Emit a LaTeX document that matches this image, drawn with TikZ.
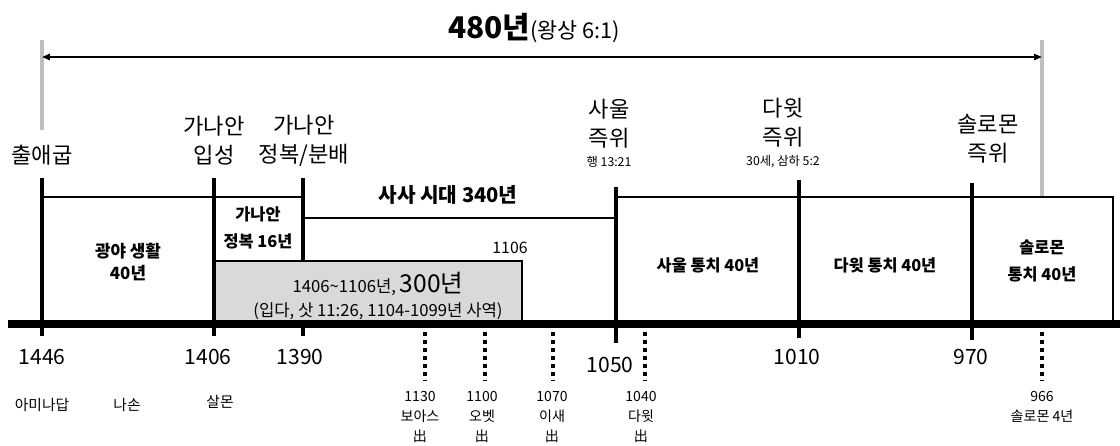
\documentclass[tikz,border=0pt]{standalone}
\usepackage{fontspec}
\setmainfont{Noto Sans CJK KR}
\usetikzlibrary{arrows.meta, positioning}

\begin{document}
\begin{tikzpicture}[x=0.02cm, y=-0.02cm,
    yearlbl/.style={font=\fontsize{12}{14}\selectfont, inner sep=0pt},
    eventlbl/.style={font=\fontsize{12.6}{16.5}\selectfont, align=center, inner sep=0pt},
    boxtxt/.style={font=\fontsize{9.3}{15}\selectfont\bfseries, align=center, inner sep=0pt},
    namelbl/.style={font=\fontsize{8.4}{10}\selectfont, inner sep=0pt},
    smalllbl/.style={font=\fontsize{8}{11.3}\selectfont, align=center, inner sep=0pt},
    reflbl/.style={font=\fontsize{7}{9}\selectfont, inner sep=0pt},
    tickline/.style={line width=2.3pt},
    frameline/.style={line width=0.85pt},
    dotline/.style={line width=2.2pt, dash pattern=on 2.2pt off 2.4pt},
    grayline/.style={line width=2.3pt, black!25}]
    \useasboundingbox (0,0) rectangle (1120,446);

    % Title and span arrow
    \node[inner sep=0pt] (title) at (534,28) {\fontsize{17}{20}\selectfont\bfseries 480년\fontsize{12.4}{14}\selectfont\mdseries(왕상 6:1)};
    \coordinate (spanL) at (42,40);
    \coordinate (spanLb) at (42,130);
    \coordinate (spanR) at (1042,40);
    \coordinate (spanRb) at (1042,196);
    \draw[grayline] (spanL) -- (spanLb);
    \draw[grayline] (spanR) -- (spanRb);
    \coordinate (arrL) at (42,57);
    \coordinate (arrR) at (1042,57);
    \draw[line width=1.1pt, {Triangle[length=4.5pt,width=3.5pt]}-{Triangle[length=4.5pt,width=3.5pt]}] (arrL) -- (arrR);

    % Period frames
    \filldraw[frameline, fill=black!15] (214,261) rectangle (522,323);
    \draw[frameline] (42,197) -- (303,197);
    \draw[frameline] (214,261) -- (303,261);
    \draw[frameline] (303,218) -- (616,218);
    \draw[frameline] (616,197) -- (1113,197) -- (1113,323);

    % Main axis
    \coordinate (axisL) at (8,324);
    \coordinate (axisR) at (1120,324);
    \draw[line width=4.5pt] (axisL) -- (axisR);

    % Ticks
    \coordinate (t1446) at (42,178);    \coordinate (b1446) at (42,336);
    \coordinate (t1406) at (214,178);   \coordinate (b1406) at (214,336);
    \coordinate (t1390) at (303,178);   \coordinate (m1390) at (303,261);
    \coordinate (a1390) at (303,324);   \coordinate (b1390) at (303,336);
    \coordinate (t1050) at (616,187);   \coordinate (b1050) at (616,343);
    \coordinate (t1010) at (799,180);   \coordinate (b1010) at (799,338);
    \coordinate (t970) at (972,183);    \coordinate (b970) at (972,340);
    \draw[tickline] (t1446) -- (b1446);
    \draw[tickline] (t1406) -- (b1406);
    \draw[tickline] (t1390) -- (m1390);
    \draw[tickline] (a1390) -- (b1390);
    \draw[tickline] (t1050) -- (b1050);
    \draw[tickline] (t1010) -- (b1010);
    \draw[tickline] (t970) -- (b970);

    % Events above
    \node[eventlbl] (exodus) at (42,155) {출애굽};
    \node[eventlbl] (entry) at (214,141) {가나안\\입성};
    \node[eventlbl] (conquest) at (304,141) {가나안\\정복/분배};
    \node[eventlbl] (saul) at (609,124) {사울\\즉위};
    \node[reflbl, below=4pt of saul] (saulref) {행 13:21};
    \node[eventlbl] (david) at (783,123) {다윗\\즉위};
    \node[reflbl, below=4pt of david] (davidref) {30세, 삼하 5:2};
    \node[eventlbl] (solomon) at (988,139) {솔로몬\\즉위};

    % Period texts
    \node[boxtxt, font=\fontsize{9.6}{13}\selectfont\bfseries] (wild) at (128,262) {광야 생활\\40년};
    \node[boxtxt] (conq16) at (258,228) {가나안\\정복 16년};
    \node[boxtxt, font=\fontsize{11.5}{14}\selectfont\bfseries] (judges) at (448,195) {사사 시대 340년};
    \node[yearlbl, font=\fontsize{9}{11}\selectfont] (y1106) at (510,248) {1106};
    \node[inner sep=0pt, align=center, font=\fontsize{9.5}{14}\selectfont] (judges300) at (378,296)
        {1406\textasciitilde1106년, {\fontsize{14}{14}\selectfont 300년}\\(입다, 삿 11:26, 1104-1099년 사역)};
    \node[boxtxt] (saulrule) at (708,265) {사울 통치 40년};
    \node[boxtxt] (davidrule) at (885,265) {다윗 통치 40년};
    \node[boxtxt] (solrule) at (1042,261) {솔로몬\\통치 40년};

    % Years below
    \node[yearlbl] (l1446) at (42,357) {1446};
    \node[yearlbl] (l1406) at (208,357) {1406};
    \node[yearlbl] (l1390) at (300,357) {1390};
    \node[yearlbl] (l1050) at (610,365) {1050};
    \node[yearlbl] (l1010) at (797,357) {1010};
    \node[yearlbl] (l970) at (971,357) {970};

    % Genealogy
    \node[namelbl] (amminadab) at (42,405) {아미나답};
    \node[namelbl] (nahshon) at (127,405) {나손};
    \node[namelbl] (salmon) at (220,402) {살몬};

    % Births
    \coordinate (d1130) at (425,332);  \coordinate (e1130) at (425,381);
    \coordinate (d1100) at (485,332);  \coordinate (e1100) at (485,381);
    \coordinate (d1070) at (553,332);  \coordinate (e1070) at (553,381);
    \coordinate (d1040) at (645,332);  \coordinate (e1040) at (645,381);
    \coordinate (d966) at (1042,332);  \coordinate (e966) at (1042,381);
    \draw[dotline] (d1130) -- (e1130);
    \draw[dotline] (d1100) -- (e1100);
    \draw[dotline] (d1070) -- (e1070);
    \draw[dotline] (d1040) -- (e1040);
    \draw[dotline] (d966) -- (e966);
    \node[smalllbl] (boaz) at (420,417) {1130\\보아스\\出};
    \node[smalllbl] (obed) at (482,417) {1100\\오벳\\出};
    \node[smalllbl] (jesse) at (552,417) {1070\\이새\\出};
    \node[smalllbl] (davidborn) at (641,417) {1040\\다윗\\出};
    \node[smalllbl] (sol4) at (1042,407) {966\\솔로몬 4년};
\end{tikzpicture}
\end{document}
